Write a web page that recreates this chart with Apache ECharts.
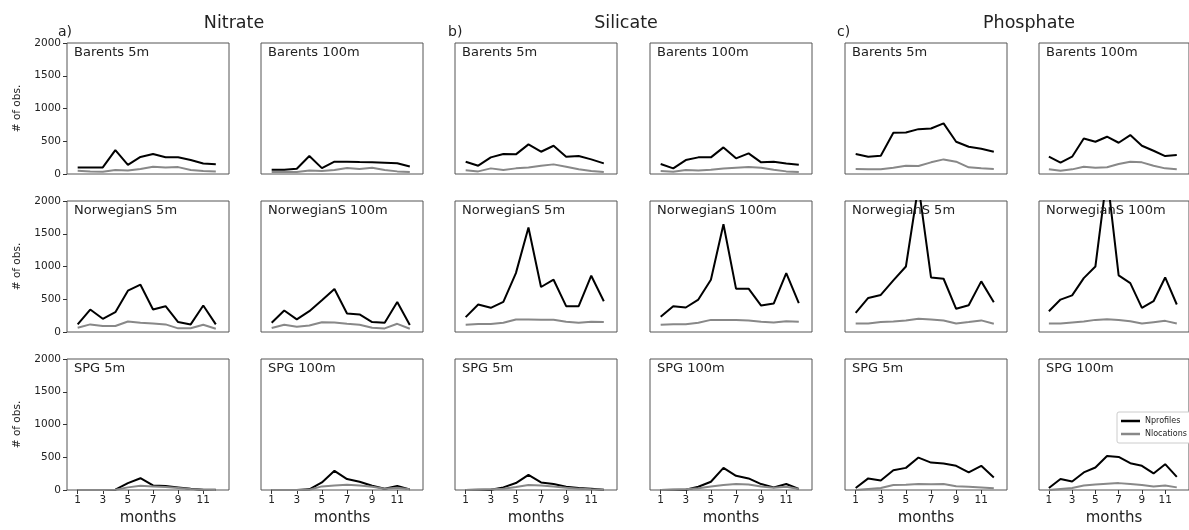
<!DOCTYPE html>
<html>
<head>
<meta charset="utf-8">
<script src="https://cdn.jsdelivr.net/npm/echarts@6/dist/echarts.min.js"></script>
<style>
  html, body { margin: 0; padding: 0; background: #fff; }
  #chart { width: 1189px; height: 530px; }
</style>
</head>
<body>
<div id="chart"></div>
<script>
const months = [1, 2, 3, 4, 5, 6, 7, 8, 9, 10, 11, 12]
const xTicks = [1, 3, 5, 7, 9, 11]
const nutrients = ["Nitrate", "Silicate", "Phosphate"]
const partLabels = ["a)", "b)", "c)"]
const panelNames = ["Barents 5m", "Barents 100m", "NorwegianS 5m", "NorwegianS 100m", "SPG 5m", "SPG 100m"]
const seriesNames = ["Nprofiles", "Nlocations"]

// one row per panel, same order as panelNames
const nitrateProfiles = [
  [100, 100, 100, 365, 140, 260, 305, 255, 255, 215, 160, 150],
  [65, 65, 80, 275, 90, 188, 188, 182, 178, 172, 165, 115],
  [116, 343, 202, 303, 631, 722, 343, 394, 152, 116, 404, 116],
  [141, 328, 192, 318, 485, 657, 283, 268, 152, 141, 458, 107],
  [0, 0, 0, 5, 105, 180, 70, 60, 40, 20, 5, 3],
  [0, 0, 0, 10, 116, 293, 167, 126, 66, 20, 62, 10],
]
const nitrateLocations = [
  [50, 40, 35, 60, 55, 75, 110, 100, 105, 60, 45, 40],
  [30, 30, 30, 55, 45, 60, 90, 75, 95, 60, 40, 30],
  [66, 116, 91, 91, 160, 141, 131, 116, 56, 56, 110, 50],
  [60, 110, 80, 100, 150, 145, 125, 110, 65, 55, 125, 50],
  [0, 0, 0, 5, 40, 65, 55, 45, 30, 15, 5, 0],
  [0, 0, 0, 5, 55, 70, 80, 70, 50, 20, 35, 10],
]
const silicateProfiles = [
  [188, 127, 254, 305, 300, 452, 340, 431, 264, 274, 223, 162],
  [152, 86, 213, 254, 254, 406, 239, 315, 178, 188, 162, 140],
  [227, 419, 369, 460, 899, 1596, 687, 798, 394, 394, 859, 470],
  [232, 394, 374, 495, 798, 1646, 662, 662, 404, 434, 899, 440],
  [0, 5, 5, 40, 106, 232, 116, 91, 50, 30, 20, 5],
  [0, 5, 5, 50, 126, 338, 217, 177, 91, 40, 91, 15],
]
const silicateLocations = [
  [56, 40, 86, 61, 86, 100, 127, 147, 112, 71, 46, 30],
  [45, 35, 60, 55, 65, 85, 95, 105, 95, 65, 40, 30],
  [111, 121, 121, 141, 192, 192, 187, 187, 157, 141, 157, 152],
  [110, 120, 120, 140, 185, 185, 185, 175, 155, 145, 165, 155],
  [0, 5, 10, 20, 45, 75, 70, 55, 35, 20, 10, 5],
  [0, 5, 10, 25, 55, 75, 90, 85, 55, 35, 50, 15],
]
const phosphateProfiles = [
  [305, 264, 279, 629, 635, 685, 695, 772, 492, 416, 386, 340],
  [264, 173, 264, 543, 492, 569, 477, 594, 431, 355, 274, 289],
  [293, 520, 566, 788, 1000, 2240, 833, 813, 354, 409, 773, 455],
  [318, 495, 560, 823, 1000, 2400, 864, 747, 369, 470, 833, 420],
  [30, 177, 146, 303, 338, 495, 419, 404, 369, 268, 369, 192],
  [30, 167, 131, 268, 343, 520, 505, 409, 369, 253, 394, 200],
]
const phosphateLocations = [
  [76, 71, 71, 96, 127, 122, 178, 223, 188, 102, 86, 76],
  [71, 51, 71, 112, 96, 102, 152, 188, 178, 127, 86, 71],
  [131, 131, 152, 162, 177, 202, 192, 177, 131, 152, 177, 126],
  [130, 130, 145, 160, 185, 195, 185, 165, 130, 150, 170, 130],
  [0, 15, 30, 76, 81, 91, 86, 91, 56, 50, 40, 25],
  [0, 15, 30, 70, 85, 95, 105, 90, 75, 55, 70, 40],
]

const profiles = [nitrateProfiles, silicateProfiles, phosphateProfiles]
const locations = [nitrateLocations, silicateLocations, phosphateLocations]

// panel layout (px)
const colLeft = [67, 261, 455, 650, 845, 1039]
const rowTop = [43, 201, 359]
const panelW = 162
const panelH = 131
const titleX = [234, 626, 1029]
const partX = [58, 448, 837]
const font = "DejaVu Sans"

const chart = echarts.init(document.getElementById("chart"))

const grids = []
const xAxes = []
const yAxes = []
const series = []
const graphics = []

nutrients.forEach((nut, n) => {
  graphics.push({
    type: "text",
    style: { x: titleX[n], y: 23, text: nut, font: "17.5px " + font, fill: "#222", textAlign: "center", textVerticalAlign: "middle" },
  })
  graphics.push({
    type: "text",
    style: { x: partX[n], y: 32, text: partLabels[n], font: "14px " + font, fill: "#222", textAlign: "left", textVerticalAlign: "middle" },
  })
  panelNames.forEach((name, p) => {
    const col = n * 2 + (p % 2)
    const row = Math.floor(p / 2)
    const g = grids.length
    grids.push({
      left: colLeft[col],
      top: rowTop[row],
      width: panelW,
      height: panelH,
      show: true,
      borderColor: "#555",
      borderWidth: 1,
    })
    const bottom = row === 2
    xAxes.push({
      gridIndex: g,
      type: "value",
      min: 0.15,
      max: 13.05,
      axisLine: { show: false },
      splitLine: { show: false },
      axisTick: { show: bottom, length: 4, customValues: xTicks, lineStyle: { color: "#333" } },
      axisLabel: { show: bottom, customValues: xTicks, fontFamily: font, fontSize: 10.5, color: "#222", margin: 5 },
      name: bottom ? "months" : "",
      nameLocation: "middle",
      nameGap: 21,
      nameTextStyle: { fontFamily: font, fontSize: 15, color: "#222" },
    })
    const first = col === 0
    yAxes.push({
      gridIndex: g,
      type: "value",
      min: 0,
      max: 2000,
      interval: 500,
      axisLine: { show: false },
      splitLine: { show: false },
      axisTick: { show: first, length: 4, lineStyle: { color: "#333" } },
      axisLabel: { show: first, fontFamily: font, fontSize: 10.5, color: "#222", margin: 6, formatter: (v) => String(v) },
      name: first ? "# of obs." : "",
      nameLocation: "middle",
      nameRotate: 90,
      nameGap: 44,
      nameTextStyle: { fontFamily: font, fontSize: 10.5, color: "#222" },
    })
    series.push({
      name: seriesNames[0],
      type: "line",
      xAxisIndex: g,
      yAxisIndex: g,
      symbol: "none",
      clip: true,
      color: "#000",
      lineStyle: { width: 2, color: "#000" },
      data: months.map((m, i) => [m, profiles[n][p][i]]),
    })
    series.push({
      name: seriesNames[1],
      type: "line",
      xAxisIndex: g,
      yAxisIndex: g,
      symbol: "none",
      clip: true,
      color: "#888",
      lineStyle: { width: 2, color: "#888" },
      data: months.map((m, i) => [m, locations[n][p][i]]),
    })
    graphics.push({
      type: "text",
      z: 100,
      style: { x: colLeft[col] + 7, y: rowTop[row] + 10, text: name, font: "13px " + font, fill: "#222", textAlign: "left", textVerticalAlign: "middle" },
    })
  })
})

const option = {
  animation: false,
  backgroundColor: "#fff",
  grid: grids,
  xAxis: xAxes,
  yAxis: yAxes,
  series: series,
  graphic: graphics,
  legend: {
    data: seriesNames,
    orient: "vertical",
    left: 1117,
    top: 412,
    padding: [5, 4, 5, 4],
    itemGap: 5,
    icon: "rect",
    itemWidth: 19,
    itemHeight: 2.5,
    backgroundColor: "#fff",
    borderColor: "#ccc",
    borderWidth: 1,
    borderRadius: 2,
    textStyle: { fontFamily: font, fontSize: 8, color: "#222" },
  },
}
chart.setOption(option, true)
</script>
</body>
</html>
